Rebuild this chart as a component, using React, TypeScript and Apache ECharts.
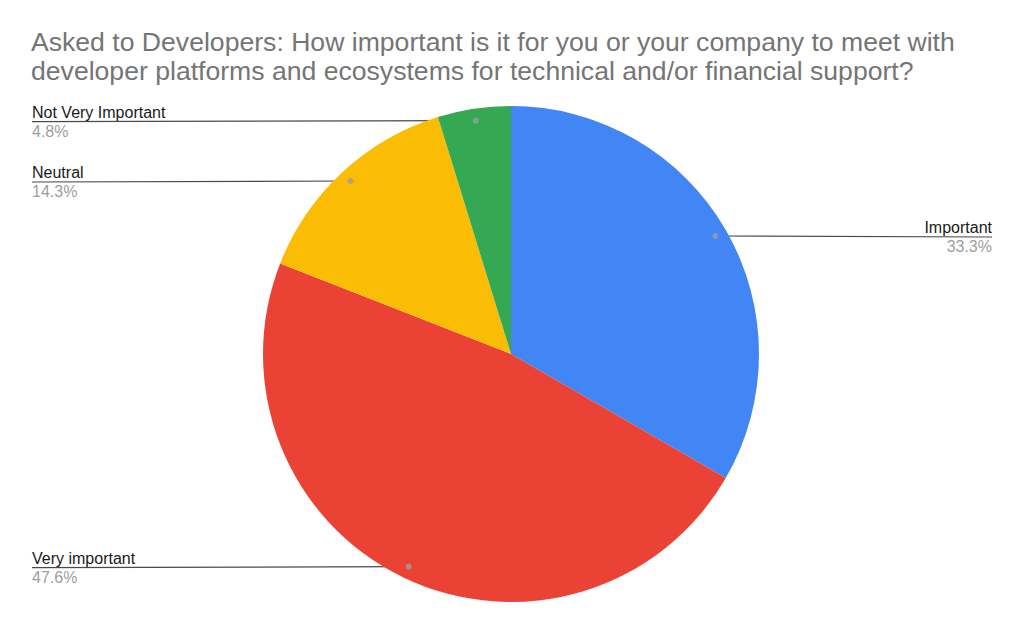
import React, { useEffect, useRef } from "react";
import * as echarts from "echarts";

const titleText =
  "Asked to Developers: How important is it for you or your company to meet with\ndeveloper platforms and ecosystems for technical and/or financial support?";
const categories = ["Important", "Very important", "Neutral", "Not Very Important"];
const counts = [7, 10, 3, 1];
const colors = ["#4285F4", "#EA4335", "#FBBC04", "#34A853"];

const FONT = "'Liberation Sans', Arial, Helvetica, sans-serif";

export default function App() {
  const ref = useRef<HTMLDivElement>(null);
  useEffect(() => {
    if (!ref.current) return;
    const chart = echarts.init(ref.current, undefined, { renderer: "svg" });
    const total = counts.reduce((a, b) => a + b, 0);
    const R = 248;
    const rDot = 236;
    const data = categories.map((name, i) => ({ name, value: counts[i], itemStyle: { color: colors[i] } }));
    let cum = 0;
    const dots = counts.map((v) => {
      const mid = cum + v / 2;
      cum += v;
      return [rDot / R, mid];
    });
    const W = 1024;
    chart.setOption({
      animation: false,
      textStyle: { fontFamily: FONT },
      title: {
        text: titleText,
        left: 26,
        top: 22,
        textStyle: {
          fontFamily: FONT,
          fontSize: 26.6,
          fontWeight: "normal",
          color: "#757575",
          lineHeight: 29,
        },
      },
      polar: { center: [511, 354], radius: R },
      angleAxis: { type: "value", min: 0, max: total, startAngle: 90, clockwise: true, show: false },
      radiusAxis: { type: "value", min: 0, max: 1, show: false },
      series: [
        {
          type: "pie",
          center: [511, 354],
          radius: [0, R],
          startAngle: 90,
          clockwise: true,
          silent: true,
          label: { show: false },
          labelLine: { show: false },
          data,
        },
        {
          type: "pie",
          center: [511, 354],
          radius: [0, rDot],
          startAngle: 90,
          clockwise: true,
          silent: true,
          percentPrecision: 1,
          itemStyle: { color: "rgba(0,0,0,0)" },
          data: categories.map((name, i) => ({ name, value: counts[i] })),
          label: {
            show: true,
            position: "outside",
            formatter: "{n|{b}}\n{p|{d}%}",
            rich: {
              n: { fontFamily: FONT, fontSize: 16, color: "#1a1a1a", lineHeight: 19 },
              p: { fontFamily: FONT, fontSize: 16, color: "#9E9E9E", lineHeight: 19 },
            },
          },
          labelLine: {
            show: true,
            length: 0,
            length2: 10,
            lineStyle: { color: "#4a4a4a", width: 1.2 },
          },
          labelLayout: (params: any) => {
            const pts = params.labelLinePoints;
            const p0 = pts ? pts[0] : [params.rect.x, params.rect.y];
            const right = p0[0] > 511;
            const edgeX = right ? W - 32 : 32;
            return {
              x: edgeX,
              y: p0[1] + 1,
              align: right ? "right" : "left",
              verticalAlign: "middle",
              labelLinePoints: [
                [p0[0], p0[1]],
                [edgeX, p0[1] + 1],
              ],
            };
          },
        },
        {
          type: "scatter",
          coordinateSystem: "polar",
          symbol: "circle",
          symbolSize: 6,
          silent: true,
          itemStyle: { color: "#9E9E9E" },
          data: dots,
          z: 5,
        },
      ],
    });
    return () => chart.dispose();
  }, []);
  return (
    <div
      ref={ref}
      style={{ position: "absolute", left: 0, top: 0, width: 1024, height: 634, background: "#fff" }}
    />
  );
}
